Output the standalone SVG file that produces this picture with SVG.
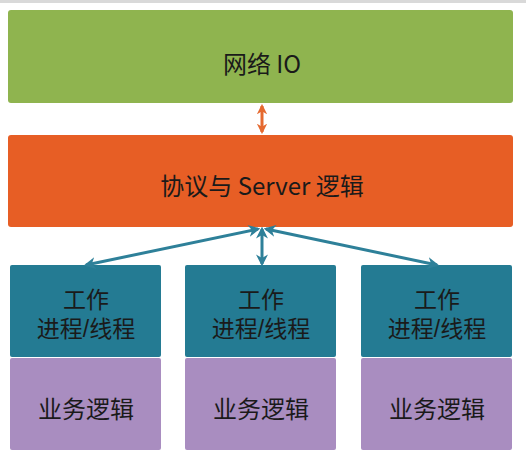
<svg xmlns="http://www.w3.org/2000/svg" width="526" height="456" viewBox="0 0 526 456">
<defs>
<style>
text{font-family:"Noto Sans CJK SC","Liberation Sans",sans-serif;font-size:24px;fill:#1a1a1a;text-anchor:middle;dominant-baseline:central}
text.w{font-family:"Liberation Sans","Noto Sans CJK SC",sans-serif;font-size:23px}
.teal{fill:#247b93}
.purple{fill:#a98dc0}
.conn{stroke:#2e8099;stroke-width:3;fill:none}
</style>
<marker id="ta" viewBox="0 0 10 10" refX="8" refY="5" markerWidth="4" markerHeight="4" orient="auto-start-reverse"><path d="M0,0 L10,5 L0,10 L3,5 z" fill="#2e8099"/></marker>
<marker id="oa" viewBox="0 0 10 10" refX="8" refY="5" markerWidth="3.5" markerHeight="3.5" orient="auto-start-reverse"><path d="M0,0 L10,5 L0,10 L3,5 z" fill="#e5692f"/></marker>
</defs>
<rect x="0" y="0" width="526" height="456" fill="#ffffff"/>
<rect x="0" y="0" width="526" height="3" fill="#d9d9d9"/>
<g id="network-io">
<rect x="8" y="10" width="505" height="93" rx="3" fill="#8fb44f"/>
<text x="262" y="62">网络 IO</text>
</g>
<g id="protocol-server">
<rect x="8" y="135" width="505" height="92" rx="3" fill="#e75e25"/>
<text x="262" y="184">协议与 Server 逻辑</text>
</g>
<g id="worker-1">
<rect class="teal" x="10" y="265" width="151" height="92" rx="2"/>
<text class="w" x="86" y="300">工作</text>
<text class="w" x="86" y="329">进程/线程</text>
</g>
<g id="logic-1">
<rect class="purple" x="10" y="358" width="151" height="92" rx="2"/>
<text x="86" y="407">业务逻辑</text>
</g>
<g id="worker-2">
<rect class="teal" x="185" y="265" width="151" height="92" rx="2"/>
<text class="w" x="261" y="300">工作</text>
<text class="w" x="261" y="329">进程/线程</text>
</g>
<g id="logic-2">
<rect class="purple" x="185" y="358" width="151" height="92" rx="2"/>
<text x="261" y="407">业务逻辑</text>
</g>
<g id="worker-3">
<rect class="teal" x="361" y="265" width="151" height="92" rx="2"/>
<text class="w" x="437" y="300">工作</text>
<text class="w" x="437" y="329">进程/线程</text>
</g>
<g id="logic-3">
<rect class="purple" x="361" y="358" width="151" height="92" rx="2"/>
<text x="437" y="407">业务逻辑</text>
</g>
<g id="connectors">
<line x1="262" y1="106" x2="262" y2="132" stroke="#e5692f" stroke-width="3" marker-start="url(#oa)" marker-end="url(#oa)"/>
<line class="conn" x1="258" y1="229" x2="86" y2="265" marker-start="url(#ta)" marker-end="url(#ta)"/>
<line class="conn" x1="262" y1="229" x2="262" y2="264" marker-start="url(#ta)" marker-end="url(#ta)"/>
<line class="conn" x1="266" y1="229" x2="437" y2="265" marker-start="url(#ta)" marker-end="url(#ta)"/>
</g>
</svg>
